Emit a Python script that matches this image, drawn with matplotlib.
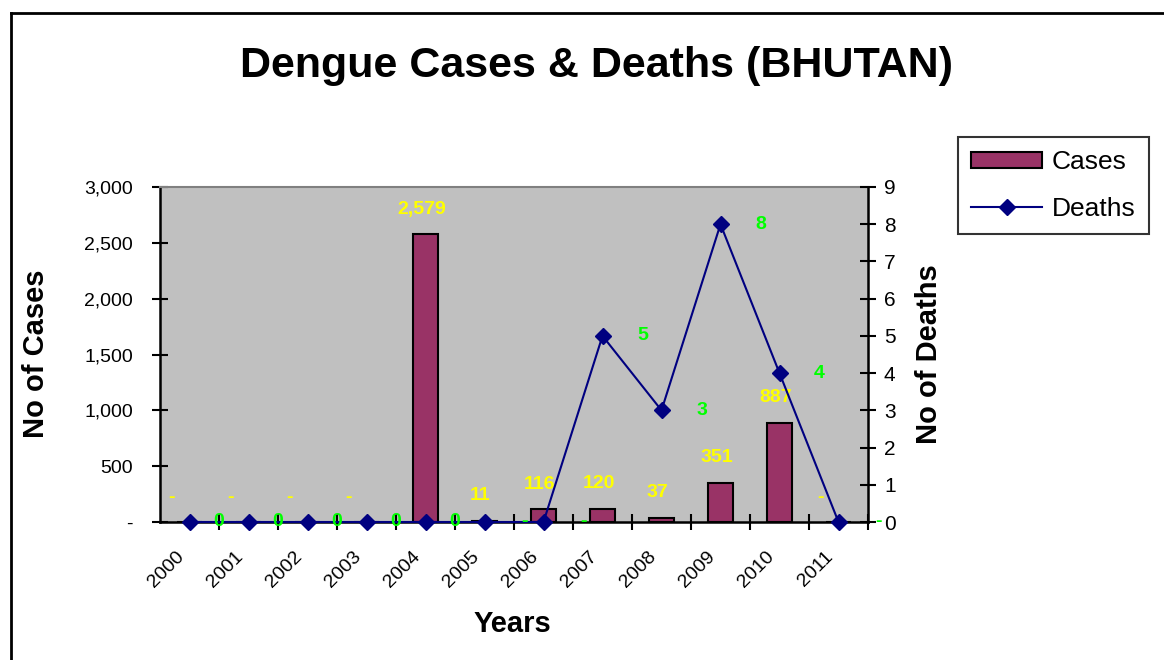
import matplotlib
matplotlib.use("Agg")
import matplotlib.pyplot as plt
from matplotlib.lines import Line2D
from matplotlib.patches import Patch

years = ["2000", "2001", "2002", "2003", "2004", "2005", "2006",
         "2007", "2008", "2009", "2010", "2011"]
cases = [0, 0, 0, 0, 2579, 11, 116, 120, 37, 351, 887, 0]
deaths = [0, 0, 0, 0, 0, 0, 0, 5, 3, 8, 4, 0]
case_labels = ["-", "-", "-", "-", "2,579", "11", "116", "120", "37", "351", "887", "-"]
death_labels = ["0", "0", "0", "0", "0", "-", "-", "5", "3", "8", "4", "-"]
cases_ticks = [0, 500, 1000, 1500, 2000, 2500, 3000]
cases_tick_labels = ["-", "500", "1,000", "1,500", "2,000", "2,500", "3,000"]
death_ticks = list(range(0, 10))

plt.rcParams['font.family'] = ['Liberation Sans', 'DejaVu Sans']

fig = plt.figure(figsize=(11.64, 6.6), dpi=100)
fig.patch.set_facecolor("white")

# figure border (top and left visible)
fig.add_artist(Line2D([11/1164, 11/1164], [0, 1 - 13/660], transform=fig.transFigure,
                      color="black", lw=2))
fig.add_artist(Line2D([11/1164, 1], [1 - 13/660, 1 - 13/660], transform=fig.transFigure,
                      color="black", lw=2))

ax = fig.add_axes([160/1164, 1 - 522/660, 708/1164, 335/660])
ax.set_facecolor("#C0C0C0")
x = list(range(len(years)))
ax.bar(x, cases, width=0.41, color="#993366", edgecolor="black", linewidth=1.5, zorder=2)
ax.set_xlim(-0.5, len(years) - 0.5)
ax.set_ylim(0, 3000)
ax.set_yticks(cases_ticks)
ax.set_yticklabels(cases_tick_labels, fontsize=14)
ax.tick_params(axis="y", direction="inout", length=11, width=1.5, pad=14)
ax.set_xticks([i + 0.5 for i in x])
ax.set_xticklabels([])
ax.tick_params(axis="x", direction="inout", length=11, width=1.5)
for s in ["left", "bottom"]:
    ax.spines[s].set_color("black")
    ax.spines[s].set_linewidth(1.8)
ax.spines["top"].set_color("#808080")
ax.spines["top"].set_linewidth(1.5)
ax.spines["right"].set_visible(False)

for i, lab in enumerate(years):
    ax.annotate(lab, xy=(i, 0), xycoords=("data", "axes fraction"),
                xytext=(-14, -26), textcoords="offset pixels",
                rotation=45, ha="right", va="top", rotation_mode="anchor",
                fontsize=14, color="black")

for i, (v, lab) in enumerate(zip(cases, case_labels)):
    dx = -18 if lab == "-" else -4
    ax.annotate(lab, xy=(i, v), xytext=(dx, 25), textcoords="offset pixels",
                ha="center", va="center", fontsize=14, fontweight="bold",
                color="#FFFF00", zorder=3)

ax2 = ax.twinx()
ax2.plot(x, deaths, color="#000080", lw=1.5, marker="D", markersize=8.5,
         markerfacecolor="#000080", markeredgecolor="#000080", zorder=3, clip_on=False)
ax2.set_ylim(0, 9)
ax2.set_yticks(death_ticks)
ax2.set_yticklabels([str(t) for t in death_ticks], fontsize=15)
ax2.tick_params(axis="y", direction="inout", length=11, width=1.5, pad=6)
for s in ["top", "left", "bottom"]:
    ax2.spines[s].set_visible(False)
ax2.spines["right"].set_color("black")
ax2.spines["right"].set_linewidth(1.8)

for i, (v, lab) in enumerate(zip(deaths, death_labels)):
    dx = 29 if lab == "0" else 40
    ax2.annotate(lab, xy=(i, v), xytext=(dx, 0), textcoords="offset pixels",
                 ha="center", va="center", fontsize=14, fontweight="bold",
                 color="#00FF00", zorder=4, annotation_clip=False)

fig.text(596/1164, 1 - 66/660, "Dengue Cases & Deaths (BHUTAN)", ha="center", va="center",
         fontsize=31, fontweight="bold")
fig.text(36/1164, 1 - 354/660, "No of Cases", rotation=90, ha="center", va="center",
         fontsize=21, fontweight="bold")
fig.text(929/1164, 1 - 354/660, "No of Deaths", rotation=90, ha="center", va="center",
         fontsize=21, fontweight="bold")
fig.text(512/1164, 1 - 624/660, "Years", ha="center", va="center",
         fontsize=21, fontweight="bold")

handles = [Patch(facecolor="#993366", edgecolor="black", linewidth=1.5),
           Line2D([], [], color="#000080", lw=1.5, marker="D", markersize=8.5)]
leg = fig.legend(handles, ["Cases", "Deaths"], loc="upper left",
                 bbox_to_anchor=(958/1164, 1 - 137/660), fontsize=19,
                 frameon=True, fancybox=False, edgecolor="black",
                 handlelength=2.7, handleheight=0.6, borderpad=0.5,
                 labelspacing=0.85, handletextpad=0.35, borderaxespad=0)
leg.get_frame().set_linewidth(1.5)

fig.savefig("out.png", dpi=100)
